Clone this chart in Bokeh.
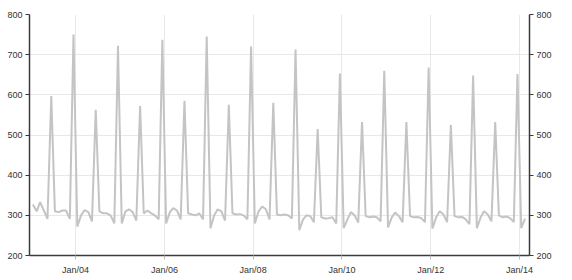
import datetime as dt
from bokeh.plotting import figure
from bokeh.models import (LinearAxis, Range1d, FixedTicker, DatetimeTickFormatter,
                          DatetimeAxis, ColumnDataSource)
from bokeh.embed import file_html
from bokeh.resources import INLINE

# Monthly values, Jan 2003 .. Feb 2014
values_2003 = [327, 310, 333, 312, 291, 597, 310, 308, 312, 312, 291, 750]
values_2004 = [272, 300, 313, 308, 285, 563, 310, 305, 305, 300, 280, 722]
values_2005 = [280, 310, 315, 308, 287, 572, 305, 312, 305, 300, 290, 737]
values_2006 = [280, 308, 318, 312, 290, 585, 305, 302, 300, 305, 290, 745]
values_2007 = [268, 300, 315, 310, 287, 575, 305, 302, 303, 300, 290, 720]
values_2008 = [280, 310, 322, 315, 290, 580, 302, 300, 302, 300, 292, 713]
values_2009 = [263, 290, 300, 298, 283, 515, 295, 292, 293, 295, 280, 653]
values_2010 = [268, 290, 308, 300, 282, 532, 298, 295, 297, 295, 285, 660]
values_2011 = [270, 295, 307, 298, 283, 532, 298, 295, 296, 293, 283, 668]
values_2012 = [267, 295, 310, 302, 283, 525, 298, 295, 296, 290, 278, 648]
values_2013 = [268, 295, 310, 302, 285, 532, 300, 295, 297, 293, 283, 652]
values_2014 = [268, 292]

years = [2003, 2004, 2005, 2006, 2007, 2008, 2009, 2010, 2011, 2012, 2013, 2014]
series = [values_2003, values_2004, values_2005, values_2006, values_2007, values_2008,
          values_2009, values_2010, values_2011, values_2012, values_2013, values_2014]

tick_years = [2004, 2006, 2008, 2010, 2012, 2014]
y_ticks = [200, 300, 400, 500, 600, 700, 800]

dates, vals = [], []
for yr, vs in zip(years, series):
    for m, v in enumerate(vs):
        dates.append(dt.datetime(yr, m + 1, 15))
        vals.append(v)

src = ColumnDataSource(data=dict(date=dates, value=vals))

def ms(d):
    return (d - dt.datetime(1970, 1, 1)).total_seconds() * 1000.0

x_start = ms(dt.datetime(2002, 12, 18))
x_end = ms(dt.datetime(2014, 3, 24))

p = figure(width=572, height=280, x_axis_type="datetime",
           x_range=Range1d(x_start, x_end), y_range=Range1d(200, 800),
           output_backend="svg", toolbar_location=None,
           min_border_left=29, min_border_right=43, min_border_top=14,
           min_border_bottom=25)
p.outline_line_color = None
p.background_fill_color = "white"
p.border_fill_color = "white"

p.line("date", "value", source=src, line_color="#c4c4c4", line_width=2)

font = "Liberation Sans"
fmt = "%b/%y"
xaxis = p.xaxis[0]
xaxis.ticker = FixedTicker(ticks=[ms(dt.datetime(y, 1, 1)) for y in tick_years])
xaxis.formatter = DatetimeTickFormatter(years=fmt, months=fmt, days=fmt, hours=fmt,
                                        hourmin=fmt, minutes=fmt, minsec=fmt,
                                        seconds=fmt, milliseconds=fmt,
                                        microseconds=fmt)

yaxis = p.yaxis[0]
yaxis.ticker = FixedTicker(ticks=y_ticks)
raxis = LinearAxis(ticker=FixedTicker(ticks=y_ticks))
p.add_layout(raxis, "right")

for ax in [xaxis, yaxis, raxis]:
    ax.axis_line_color = "#3a3a3a"
    ax.axis_line_width = 1.5
    ax.major_tick_line_color = "#3a3a3a"
    ax.major_tick_line_width = 1
    ax.major_tick_out = 4
    ax.major_tick_in = 0
    ax.minor_tick_line_color = None
    ax.major_label_text_font = font
    ax.major_label_text_font_size = "9px"
    ax.major_label_text_color = "#333333"
    ax.major_label_standoff = 3
xaxis.major_tick_line_color = "#bbbbbb"
xaxis.major_label_standoff = 5

p.xgrid.ticker = xaxis.ticker
p.ygrid.ticker = yaxis.ticker
p.xgrid.grid_line_color = "#e8e8e8"
p.ygrid.grid_line_color = "#e8e8e8"

open("out.html", "w").write(file_html(p, INLINE))
